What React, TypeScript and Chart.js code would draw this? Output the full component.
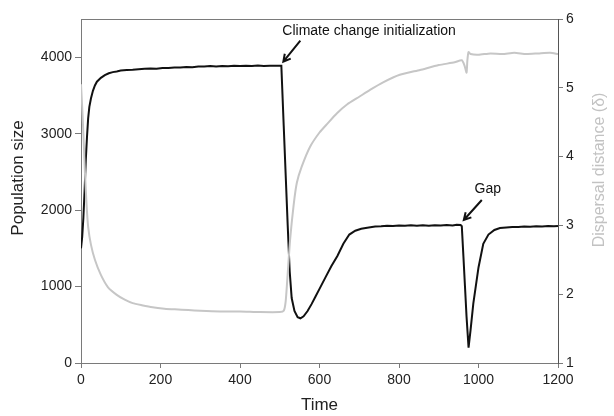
import React, { useEffect, useRef } from "react";
import { Chart, registerables } from "chart.js";

Chart.register(...registerables);

// Population size (black, left axis)
const popTime = [0, 3, 6, 9, 12, 15, 18, 21, 25, 30, 35, 40, 50, 60, 70, 80, 90, 100, 115, 130, 145, 160, 175, 190, 205, 220, 235, 250, 265, 280, 295, 310, 325, 340, 355, 370, 385, 400, 415, 430, 445, 460, 475, 490, 500, 504, 510, 515, 520, 525, 530, 537, 545, 552, 560, 570, 580, 590, 600, 615, 630, 645, 660, 675, 690, 705, 720, 740, 755, 770, 785, 800, 815, 830, 845, 860, 875, 890, 905, 920, 935, 945, 955, 958, 962, 966, 970, 975, 980, 987, 1000, 1012, 1025, 1040, 1054, 1070, 1085, 1100, 1115, 1130, 1145, 1160, 1175, 1190, 1200];
const popValues = [1500, 1650, 1900, 2250, 2650, 2950, 3200, 3350, 3460, 3560, 3630, 3680, 3730, 3765, 3790, 3805, 3812, 3825, 3832, 3836, 3842, 3848, 3852, 3850, 3860, 3858, 3866, 3864, 3872, 3870, 3880, 3878, 3884, 3880, 3886, 3882, 3889, 3885, 3890, 3884, 3891, 3886, 3889, 3887, 3890, 3888, 3100, 2450, 1800, 1200, 850, 680, 600, 585, 610, 680, 770, 870, 970, 1120, 1270, 1400, 1560, 1680, 1730, 1755, 1770, 1785, 1788, 1795, 1792, 1800, 1794, 1801, 1797, 1803, 1796, 1802, 1799, 1806, 1800, 1808, 1804, 1790, 1400, 1000, 600, 200, 430, 780, 1250, 1560, 1680, 1740, 1765, 1772, 1780, 1778, 1786, 1783, 1790, 1786, 1792, 1789, 1793];

// Dispersal distance (gray, right axis)
const dispTime = [0, 4, 8, 10, 14, 18, 25, 35, 50, 68, 90, 110, 130, 153, 180, 210, 236, 270, 300, 350, 400, 450, 500, 510, 515, 520, 526, 535, 543, 555, 576, 600, 620, 644, 670, 700, 727, 760, 802, 853, 900, 940, 958, 965, 970, 972, 975, 980, 1000, 1030, 1060, 1090, 1120, 1150, 1180, 1200];
const dispValues = [5.05, 4.6, 4.05, 3.76, 3.3, 2.98, 2.72, 2.5, 2.28, 2.1, 1.99, 1.92, 1.87, 1.84, 1.81, 1.79, 1.78, 1.77, 1.76, 1.75, 1.75, 1.74, 1.74, 1.76, 1.9, 2.3, 2.79, 3.3, 3.62, 3.85, 4.14, 4.35, 4.48, 4.63, 4.76, 4.87, 4.97, 5.08, 5.19, 5.26, 5.33, 5.37, 5.4, 5.32, 5.22, 5.4, 5.52, 5.49, 5.48, 5.5, 5.49, 5.51, 5.49, 5.5, 5.51, 5.49];

const xTicks = [0, 200, 400, 600, 800, 1000, 1200];
const leftTicks = [0, 1000, 2000, 3000, 4000];
const rightTicks = [1, 2, 3, 4, 5, 6];

const FONT = "'Liberation Sans', Arial, sans-serif";
const AXIS = "#7a7a7a";

function arrow(ctx: CanvasRenderingContext2D, x0: number, y0: number, x1: number, y1: number) {
  ctx.save();
  ctx.strokeStyle = "#111";
  ctx.lineWidth = 2;
  ctx.beginPath();
  ctx.moveTo(x0, y0);
  ctx.lineTo(x1, y1);
  const a = Math.atan2(y1 - y0, x1 - x0);
  const h = 8;
  ctx.moveTo(x1 - h * Math.cos(a - 0.5), y1 - h * Math.sin(a - 0.5));
  ctx.lineTo(x1, y1);
  ctx.lineTo(x1 - h * Math.cos(a + 0.5), y1 - h * Math.sin(a + 0.5));
  ctx.stroke();
  ctx.restore();
}

const decor = {
  id: "decor",
  afterDraw(chart: any) {
    const { ctx, chartArea } = chart;
    const { left, right, top } = chartArea;
    const xs = chart.scales.x;
    const ys = chart.scales.y;
    ctx.save();
    // top frame line
    ctx.strokeStyle = AXIS;
    ctx.lineWidth = 1;
    ctx.beginPath();
    ctx.moveTo(left, top + 0.5);
    ctx.lineTo(right, top + 0.5);
    ctx.stroke();

    // axis titles
    ctx.fillStyle = "#222";
    ctx.font = `17px ${FONT}`;
    ctx.textAlign = "center";
    ctx.textBaseline = "middle";
    ctx.fillText("Time", (left + right) / 2, 405);
    ctx.save();
    ctx.translate(18, 178);
    ctx.rotate(-Math.PI / 2);
    ctx.fillText("Population size", 0, 0);
    ctx.restore();
    ctx.save();
    ctx.fillStyle = "#c2c2c2";
    ctx.font = `16px ${FONT}`;
    ctx.translate(600, 170);
    ctx.rotate(-Math.PI / 2);
    ctx.fillText("Dispersal distance (δ)", 0, 0);
    ctx.restore();

    // annotations
    ctx.font = `14px ${FONT}`;
    ctx.fillStyle = "#111";
    ctx.textBaseline = "alphabetic";
    const cx = xs.getPixelForValue(504) + 2;
    const cy = ys.getPixelForValue(3890) - 4;
    ctx.textAlign = "left";
    ctx.fillText("Climate change initialization", cx - 1, 35);
    arrow(ctx, cx + 17, cy - 21, cx, cy);

    const gx = xs.getPixelForValue(958) + 2;
    const gy = ys.getPixelForValue(1805) - 5;
    ctx.textAlign = "center";
    ctx.fillText("Gap", gx + 24, 193);
    arrow(ctx, gx + 18, gy - 20, gx, gy);
    ctx.restore();
  },
};

export default function App() {
  const ref = useRef<HTMLCanvasElement>(null);
  useEffect(() => {
    document.body.style.margin = "0";
    const canvas = ref.current!;
    const tickFont = { family: FONT, size: 14 };
    const plain = (v: any) => String(v);
    const chart = new Chart(canvas, {
      type: "line",
      data: {
        datasets: [
          {
            label: "Dispersal distance",
            data: dispTime.map((t, i) => ({ x: t, y: dispValues[i] })),
            yAxisID: "y1",
            borderColor: "#c6c6c6",
            borderWidth: 2,
            pointRadius: 0,
            tension: 0.2,
          },
          {
            label: "Population size",
            data: popTime.map((t, i) => ({ x: t, y: popValues[i] })),
            yAxisID: "y",
            borderColor: "#111",
            borderWidth: 2,
            pointRadius: 0,
            tension: 0,
          },
        ],
      },
      options: {
        responsive: false,
        animation: false,
        layout: { padding: { top: 19, left: 0, right: 0, bottom: 0 } },
        plugins: { legend: { display: false }, tooltip: { enabled: false } },
        scales: {
          x: {
            type: "linear",
            min: 0,
            max: 1200,
            afterBuildTicks: (s: any) => { s.ticks = xTicks.map((v) => ({ value: v })); },
            afterFit: (s: any) => { s.height = 53; },
            ticks: { font: tickFont, color: "#222", padding: 4, maxRotation: 0, autoSkip: false, callback: plain },
            grid: { drawOnChartArea: false, drawTicks: true, tickLength: 5, color: AXIS },
            border: { color: AXIS, width: 1 },
          },
          y: {
            position: "left",
            min: 0,
            max: 4500,
            afterBuildTicks: (s: any) => { s.ticks = leftTicks.map((v) => ({ value: v })); },
            afterFit: (s: any) => { s.width = 81; },
            ticks: { font: tickFont, color: "#222", padding: 3, callback: plain },
            grid: { drawOnChartArea: false, drawTicks: true, tickLength: 6, color: AXIS },
            border: { color: AXIS, width: 1 },
          },
          y1: {
            position: "right",
            min: 1,
            max: 6,
            afterBuildTicks: (s: any) => { s.ticks = rightTicks.map((v) => ({ value: v })); },
            afterFit: (s: any) => { s.width = 56; },
            ticks: { font: tickFont, color: "#222", padding: 3, callback: plain },
            grid: { drawOnChartArea: false, drawTicks: true, tickLength: 5, color: AXIS },
            border: { color: "#555", width: 1 },
          },
        },
      },
      plugins: [decor],
    });
    return () => chart.destroy();
  }, []);
  return (
    <div style={{ width: 614, height: 416 }}>
      <canvas ref={ref} width={614} height={416} />
    </div>
  );
}
